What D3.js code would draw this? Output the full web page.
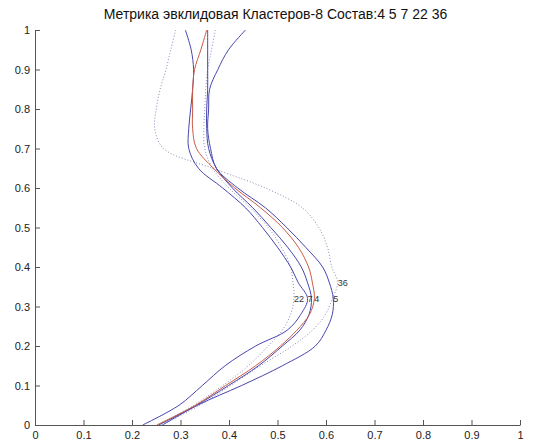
<!DOCTYPE html>
<html>
<head>
<meta charset="utf-8">
<script src="https://cdn.jsdelivr.net/npm/d3@7"></script>
<style>
  html, body { margin: 0; padding: 0; background: #fff; }
  svg { display: block; font-family: "Liberation Sans", Arial, sans-serif; }
</style>
</head>
<body>
<svg id="chart" width="540" height="445"></svg>
<script>
// Shared vertical levels (y values) at which each profile is sampled
const levels = [1, 0.95, 0.9, 0.85, 0.8, 0.75, 0.7, 0.65, 0.6, 0.55, 0.5, 0.45, 0.4, 0.36, 0.32, 0.28, 0.24, 0.2, 0.15, 0.1, 0.05, 0];

// Profile x values, one per level
const profile4  = [0.354, 0.342, 0.329, 0.325, 0.325, 0.325, 0.333, 0.368, 0.412, 0.465, 0.510, 0.543, 0.564, 0.572, 0.576, 0.566, 0.540, 0.506, 0.455, 0.393, 0.331, 0.251];
const profile5  = [0.434, 0.399, 0.377, 0.360, 0.358, 0.356, 0.362, 0.374, 0.418, 0.475, 0.519, 0.558, 0.593, 0.607, 0.615, 0.613, 0.600, 0.578, 0.510, 0.426, 0.335, 0.263];
const profile7  = [0.310, 0.322, 0.327, 0.325, 0.321, 0.317, 0.317, 0.337, 0.387, 0.434, 0.469, 0.500, 0.527, 0.543, 0.562, 0.548, 0.520, 0.455, 0.392, 0.345, 0.297, 0.222];
const profile22 = [0.372, 0.364, 0.356, 0.352, 0.350, 0.348, 0.350, 0.366, 0.400, 0.444, 0.481, 0.508, 0.527, 0.532, 0.534, 0.527, 0.510, 0.481, 0.440, 0.387, 0.327, 0.255];
const profile36 = [0.290, 0.280, 0.270, 0.258, 0.250, 0.247, 0.265, 0.366, 0.475, 0.551, 0.585, 0.603, 0.612, 0.624, 0.613, 0.599, 0.572, 0.530, 0.465, 0.403, 0.340, 0.260];
const profileC  = [0.356, 0.356, 0.356, 0.356, 0.354, 0.354, 0.358, 0.374, 0.407, 0.449, 0.486, 0.521, 0.549, 0.562, 0.570, 0.565, 0.546, 0.510, 0.461, 0.399, 0.333, 0.255];

// Profile names (empty name = unlabelled)
const profileNames = ["4", "5", "7", "22", "36", ""];
const profileValues = [profile4, profile5, profile7, profile22, profile36, profileC];
const profileKinds = ["red", "blue", "blue", "dotted", "dotted", "blue"];

const xTicks = [0, 0.1, 0.2, 0.3, 0.4, 0.5, 0.6, 0.7, 0.8, 0.9, 1];
const yTicks = [0, 0.1, 0.2, 0.3, 0.4, 0.5, 0.6, 0.7, 0.8, 0.9, 1];
const titleText = "Метрика эвклидовая Кластеров-8 Состав:4 5 7 22 36";

const svg = d3.select("#chart");
const margin = { left: 35, right: 20, top: 30, bottom: 20 };
const W = 540, H = 445;

const x = d3.scaleLinear().domain([0, 1]).range([margin.left, W - margin.right]);
const y = d3.scaleLinear().domain([0, 1]).range([H - margin.bottom, margin.top]);

const styles = {
  red:    { stroke: "#cc5a44", width: 1, dash: null },
  blue:   { stroke: "#4646b0", width: 1, dash: null },
  dotted: { stroke: "#8a8ab8", width: 1, dash: "1 2" }
};

const line = d3.line()
  .x(d => x(d.v))
  .y(d => y(d.h))
  .curve(d3.curveCatmullRom.alpha(0.5));

const profiles = profileValues.map((vals, i) => ({
  name: profileNames[i],
  kind: profileKinds[i],
  points: vals.map((v, j) => ({ v, h: levels[j] }))
}));

// Draw order: dotted first, then solid
const order = [4, 3, 2, 5, 1, 0];
const plot = svg.append("g");
order.forEach(i => {
  const p = profiles[i];
  const s = styles[p.kind];
  plot.append("path")
    .attr("d", line(p.points))
    .attr("fill", "none")
    .attr("stroke", s.stroke)
    .attr("stroke-width", s.width)
    .attr("stroke-dasharray", s.dash);
});

// Labels at each profile's rightmost point
profiles.forEach(p => {
  if (!p.name) return;
  const peak = p.points.reduce((a, b) => (b.v > a.v ? b : a));
  plot.append("text")
    .attr("x", x(peak.v))
    .attr("y", y(peak.h))
    .attr("dy", "0.35em")
    .attr("font-size", 9)
    .attr("fill", "#333")
    .text(p.name);
});

// Axes with inward ticks
const xAxis = d3.axisBottom(x).tickValues(xTicks).tickSizeInner(-5).tickSizeOuter(0).tickPadding(6)
  .tickFormat(d => String(d));
const yAxis = d3.axisLeft(y).tickValues(yTicks).tickSizeInner(-5).tickSizeOuter(0).tickPadding(5)
  .tickFormat(d => String(d));

const gx = svg.append("g").attr("transform", `translate(0,${y(0)})`).call(xAxis);
const gy = svg.append("g").attr("transform", `translate(${x(0)},0)`).call(yAxis);
[gx, gy].forEach(g => {
  g.selectAll("path").attr("stroke", "#555");
  g.selectAll("line").attr("stroke", "#555");
  g.selectAll("text").attr("font-size", 11).attr("fill", "#222")
    .attr("font-family", "'Liberation Sans', Arial, sans-serif");
});

svg.append("text")
  .attr("x", (x(0) + x(1)) / 2 - 2)
  .attr("y", 19)
  .attr("text-anchor", "middle")
  .attr("font-size", 14)
  .attr("fill", "#111")
  .text(titleText);
</script>
</body>
</html>
